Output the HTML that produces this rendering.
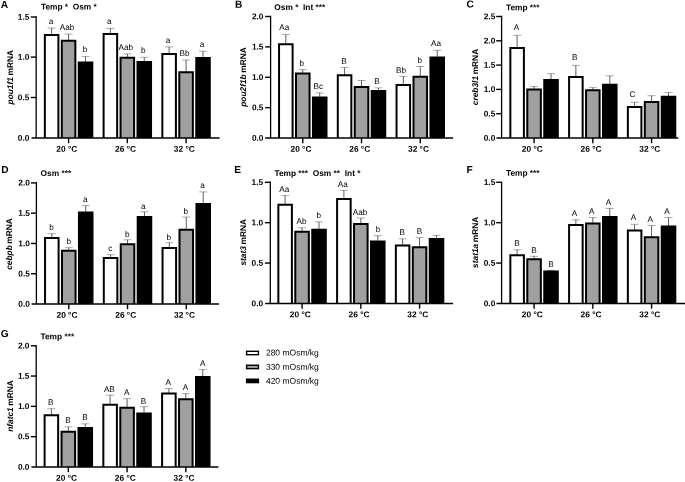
<!DOCTYPE html>
<html lang="en">
<head>
<meta charset="utf-8">
<title>Figure</title>
<style>
html,body{margin:0;padding:0;background:#fff;}
body{width:685px;height:482px;overflow:hidden;}
svg{display:block;will-change:transform;filter:grayscale(1);}
svg text{font-family:"Liberation Sans", Arial, sans-serif;fill:#000;text-rendering:geometricPrecision;}
</style>
</head>
<body>
<svg width="685" height="482" viewBox="0 0 685 482">
<rect x="0" y="0" width="685" height="482" fill="#ffffff"/>
<line x1="51.62" y1="28.10" x2="51.62" y2="34.60" stroke="#2a2a2a" stroke-width="0.75"/>
<line x1="47.62" y1="28.10" x2="55.62" y2="28.10" stroke="#2a2a2a" stroke-width="0.4"/>
<path d="M44.85 138.00V35.10H58.40V138.00" fill="#ffffff" stroke="#000" stroke-width="2.0" stroke-linejoin="miter"/>
<line x1="68.57" y1="34.10" x2="68.57" y2="40.20" stroke="#2a2a2a" stroke-width="0.75"/>
<line x1="64.57" y1="34.10" x2="72.57" y2="34.10" stroke="#2a2a2a" stroke-width="0.4"/>
<path d="M61.80 138.00V40.70H75.35V138.00" fill="#a0a0a0" stroke="#000" stroke-width="2.0" stroke-linejoin="miter"/>
<line x1="85.53" y1="56.60" x2="85.53" y2="61.90" stroke="#2a2a2a" stroke-width="0.75"/>
<line x1="81.53" y1="56.60" x2="89.53" y2="56.60" stroke="#2a2a2a" stroke-width="0.4"/>
<path d="M78.75 138.00V62.40H92.30V138.00" fill="#000000" stroke="#000" stroke-width="2.0" stroke-linejoin="miter"/>
<line x1="110.38" y1="28.40" x2="110.38" y2="33.40" stroke="#2a2a2a" stroke-width="0.75"/>
<line x1="106.38" y1="28.40" x2="114.38" y2="28.40" stroke="#2a2a2a" stroke-width="0.4"/>
<path d="M103.60 138.00V33.90H117.15V138.00" fill="#ffffff" stroke="#000" stroke-width="2.0" stroke-linejoin="miter"/>
<line x1="127.32" y1="53.90" x2="127.32" y2="57.30" stroke="#2a2a2a" stroke-width="0.75"/>
<line x1="123.32" y1="53.90" x2="131.32" y2="53.90" stroke="#2a2a2a" stroke-width="0.4"/>
<path d="M120.55 138.00V57.80H134.10V138.00" fill="#a0a0a0" stroke="#000" stroke-width="2.0" stroke-linejoin="miter"/>
<line x1="144.28" y1="57.30" x2="144.28" y2="61.50" stroke="#2a2a2a" stroke-width="0.75"/>
<line x1="140.28" y1="57.30" x2="148.28" y2="57.30" stroke="#2a2a2a" stroke-width="0.4"/>
<path d="M137.50 138.00V62.00H151.05V138.00" fill="#000000" stroke="#000" stroke-width="2.0" stroke-linejoin="miter"/>
<line x1="169.12" y1="46.90" x2="169.12" y2="53.50" stroke="#2a2a2a" stroke-width="0.75"/>
<line x1="165.12" y1="46.90" x2="173.12" y2="46.90" stroke="#2a2a2a" stroke-width="0.4"/>
<path d="M162.35 138.00V54.00H175.90V138.00" fill="#ffffff" stroke="#000" stroke-width="2.0" stroke-linejoin="miter"/>
<line x1="186.07" y1="60.00" x2="186.07" y2="71.70" stroke="#2a2a2a" stroke-width="0.75"/>
<line x1="182.07" y1="60.00" x2="190.07" y2="60.00" stroke="#2a2a2a" stroke-width="0.4"/>
<path d="M179.30 138.00V72.20H192.85V138.00" fill="#a0a0a0" stroke="#000" stroke-width="2.0" stroke-linejoin="miter"/>
<line x1="203.03" y1="51.20" x2="203.03" y2="57.40" stroke="#2a2a2a" stroke-width="0.75"/>
<line x1="199.03" y1="51.20" x2="207.03" y2="51.20" stroke="#2a2a2a" stroke-width="0.4"/>
<path d="M196.25 138.00V57.90H209.80V138.00" fill="#000000" stroke="#000" stroke-width="2.0" stroke-linejoin="miter"/>
<text transform="translate(50.95 24.00) rotate(0.03)" font-size="8.2" text-anchor="middle">a</text>
<text transform="translate(67.00 30.00) rotate(0.03)" font-size="8.2" text-anchor="middle">Aab</text>
<text transform="translate(85.00 52.00) rotate(0.03)" font-size="8.2" text-anchor="middle">b</text>
<text transform="translate(109.40 24.00) rotate(0.03)" font-size="8.2" text-anchor="middle">a</text>
<text transform="translate(125.75 50.00) rotate(0.03)" font-size="8.2" text-anchor="middle">Aab</text>
<text transform="translate(143.20 53.00) rotate(0.03)" font-size="8.2" text-anchor="middle">b</text>
<text transform="translate(168.10 43.00) rotate(0.03)" font-size="8.2" text-anchor="middle">a</text>
<text transform="translate(184.45 56.00) rotate(0.03)" font-size="8.2" text-anchor="middle">Bb</text>
<text transform="translate(202.00 47.00) rotate(0.03)" font-size="8.2" text-anchor="middle">a</text>
<line x1="36.15" y1="16.30" x2="36.15" y2="138.00" stroke="#000" stroke-width="1.3"/>
<line x1="31.50" y1="138.00" x2="219.60" y2="138.00" stroke="#000" stroke-width="1.4"/>
<line x1="30.75" y1="17.00" x2="36.15" y2="17.00" stroke="#000" stroke-width="1.4"/>
<text transform="translate(29.35 19.70) rotate(0.03)" font-size="8.35" font-weight="bold" text-anchor="end">1.5</text>
<line x1="30.75" y1="57.10" x2="36.15" y2="57.10" stroke="#000" stroke-width="1.4"/>
<text transform="translate(29.35 59.80) rotate(0.03)" font-size="8.35" font-weight="bold" text-anchor="end">1.0</text>
<line x1="30.75" y1="97.50" x2="36.15" y2="97.50" stroke="#000" stroke-width="1.4"/>
<text transform="translate(29.35 100.20) rotate(0.03)" font-size="8.35" font-weight="bold" text-anchor="end">0.5</text>
<text transform="translate(29.35 140.70) rotate(0.03)" font-size="8.35" font-weight="bold" text-anchor="end">0.0</text>
<line x1="68.58" y1="138.00" x2="68.58" y2="143.20" stroke="#000" stroke-width="1.4"/>
<text transform="translate(66.78 151.80) rotate(0.03)" font-size="8.35" font-weight="bold" text-anchor="middle">20 °C</text>
<line x1="127.33" y1="138.00" x2="127.33" y2="143.20" stroke="#000" stroke-width="1.4"/>
<text transform="translate(125.53 151.80) rotate(0.03)" font-size="8.35" font-weight="bold" text-anchor="middle">26 °C</text>
<line x1="186.07" y1="138.00" x2="186.07" y2="143.20" stroke="#000" stroke-width="1.4"/>
<text transform="translate(184.27 151.80) rotate(0.03)" font-size="8.35" font-weight="bold" text-anchor="middle">32 °C</text>
<text transform="translate(13.30,77.20) rotate(-90)" font-size="8.35" font-weight="bold" text-anchor="middle" xml:space="preserve"><tspan font-style="italic">pou1f1</tspan><tspan dx="-0.7"> mRNA</tspan></text>
<text transform="translate(40.90 9.50) rotate(0.03)" font-size="8.35" font-weight="bold" xml:space="preserve">Temp *  Osm *</text>
<text transform="translate(0.80 8.00) rotate(0.03)" font-size="10.2" font-weight="bold">A</text>
<line x1="285.83" y1="34.50" x2="285.83" y2="43.70" stroke="#2a2a2a" stroke-width="0.75"/>
<line x1="281.83" y1="34.50" x2="289.83" y2="34.50" stroke="#2a2a2a" stroke-width="0.4"/>
<path d="M279.05 138.05V44.20H292.60V138.05" fill="#ffffff" stroke="#000" stroke-width="2.0" stroke-linejoin="miter"/>
<line x1="302.77" y1="69.70" x2="302.77" y2="72.90" stroke="#2a2a2a" stroke-width="0.75"/>
<line x1="298.77" y1="69.70" x2="306.77" y2="69.70" stroke="#2a2a2a" stroke-width="0.4"/>
<path d="M296.00 138.05V73.40H309.55V138.05" fill="#a0a0a0" stroke="#000" stroke-width="2.0" stroke-linejoin="miter"/>
<line x1="319.73" y1="92.90" x2="319.73" y2="97.00" stroke="#2a2a2a" stroke-width="0.75"/>
<line x1="315.73" y1="92.90" x2="323.73" y2="92.90" stroke="#2a2a2a" stroke-width="0.4"/>
<path d="M312.95 138.05V97.50H326.50V138.05" fill="#000000" stroke="#000" stroke-width="2.0" stroke-linejoin="miter"/>
<line x1="344.58" y1="67.50" x2="344.58" y2="74.70" stroke="#2a2a2a" stroke-width="0.75"/>
<line x1="340.58" y1="67.50" x2="348.58" y2="67.50" stroke="#2a2a2a" stroke-width="0.4"/>
<path d="M337.80 138.05V75.20H351.35V138.05" fill="#ffffff" stroke="#000" stroke-width="2.0" stroke-linejoin="miter"/>
<line x1="361.52" y1="80.50" x2="361.52" y2="86.40" stroke="#2a2a2a" stroke-width="0.75"/>
<line x1="357.52" y1="80.50" x2="365.52" y2="80.50" stroke="#2a2a2a" stroke-width="0.4"/>
<path d="M354.75 138.05V86.90H368.30V138.05" fill="#a0a0a0" stroke="#000" stroke-width="2.0" stroke-linejoin="miter"/>
<line x1="378.48" y1="87.90" x2="378.48" y2="90.60" stroke="#2a2a2a" stroke-width="0.75"/>
<line x1="374.48" y1="87.90" x2="382.48" y2="87.90" stroke="#2a2a2a" stroke-width="0.4"/>
<path d="M371.70 138.05V91.10H385.25V138.05" fill="#000000" stroke="#000" stroke-width="2.0" stroke-linejoin="miter"/>
<line x1="403.33" y1="76.40" x2="403.33" y2="84.50" stroke="#2a2a2a" stroke-width="0.75"/>
<line x1="399.33" y1="76.40" x2="407.33" y2="76.40" stroke="#2a2a2a" stroke-width="0.4"/>
<path d="M396.55 138.05V85.00H410.10V138.05" fill="#ffffff" stroke="#000" stroke-width="2.0" stroke-linejoin="miter"/>
<line x1="420.27" y1="66.50" x2="420.27" y2="76.20" stroke="#2a2a2a" stroke-width="0.75"/>
<line x1="416.27" y1="66.50" x2="424.27" y2="66.50" stroke="#2a2a2a" stroke-width="0.4"/>
<path d="M413.50 138.05V76.70H427.05V138.05" fill="#a0a0a0" stroke="#000" stroke-width="2.0" stroke-linejoin="miter"/>
<line x1="437.23" y1="50.30" x2="437.23" y2="57.00" stroke="#2a2a2a" stroke-width="0.75"/>
<line x1="433.23" y1="50.30" x2="441.23" y2="50.30" stroke="#2a2a2a" stroke-width="0.4"/>
<path d="M430.45 138.05V57.50H444.00V138.05" fill="#000000" stroke="#000" stroke-width="2.0" stroke-linejoin="miter"/>
<text transform="translate(284.30 30.00) rotate(0.03)" font-size="8.2" text-anchor="middle">Aa</text>
<text transform="translate(301.85 66.00) rotate(0.03)" font-size="8.2" text-anchor="middle">b</text>
<text transform="translate(318.25 89.00) rotate(0.03)" font-size="8.2" text-anchor="middle">Bc</text>
<text transform="translate(344.10 64.00) rotate(0.03)" font-size="8.2" text-anchor="middle">B</text>
<text transform="translate(377.10 84.00) rotate(0.03)" font-size="8.2" text-anchor="middle">B</text>
<text transform="translate(401.05 73.00) rotate(0.03)" font-size="8.2" text-anchor="middle">Bb</text>
<text transform="translate(419.70 63.00) rotate(0.03)" font-size="8.2" text-anchor="middle">b</text>
<text transform="translate(436.05 46.00) rotate(0.03)" font-size="8.2" text-anchor="middle">Aa</text>
<line x1="270.60" y1="15.80" x2="270.60" y2="138.05" stroke="#000" stroke-width="1.3"/>
<line x1="265.20" y1="138.05" x2="453.10" y2="138.05" stroke="#000" stroke-width="1.4"/>
<line x1="265.20" y1="16.50" x2="270.60" y2="16.50" stroke="#000" stroke-width="1.4"/>
<text transform="translate(263.50 19.20) rotate(0.03)" font-size="8.35" font-weight="bold" text-anchor="end">2.0</text>
<line x1="265.20" y1="46.89" x2="270.60" y2="46.89" stroke="#000" stroke-width="1.4"/>
<text transform="translate(263.50 49.59) rotate(0.03)" font-size="8.35" font-weight="bold" text-anchor="end">1.5</text>
<line x1="265.20" y1="77.28" x2="270.60" y2="77.28" stroke="#000" stroke-width="1.4"/>
<text transform="translate(263.50 79.98) rotate(0.03)" font-size="8.35" font-weight="bold" text-anchor="end">1.0</text>
<line x1="265.20" y1="107.66" x2="270.60" y2="107.66" stroke="#000" stroke-width="1.4"/>
<text transform="translate(263.50 110.36) rotate(0.03)" font-size="8.35" font-weight="bold" text-anchor="end">0.5</text>
<text transform="translate(263.50 140.75) rotate(0.03)" font-size="8.35" font-weight="bold" text-anchor="end">0.0</text>
<line x1="302.77" y1="138.05" x2="302.77" y2="143.25" stroke="#000" stroke-width="1.4"/>
<text transform="translate(300.97 151.85) rotate(0.03)" font-size="8.35" font-weight="bold" text-anchor="middle">20 °C</text>
<line x1="361.52" y1="138.05" x2="361.52" y2="143.25" stroke="#000" stroke-width="1.4"/>
<text transform="translate(359.72 151.85) rotate(0.03)" font-size="8.35" font-weight="bold" text-anchor="middle">26 °C</text>
<line x1="420.27" y1="138.05" x2="420.27" y2="143.25" stroke="#000" stroke-width="1.4"/>
<text transform="translate(418.47 151.85) rotate(0.03)" font-size="8.35" font-weight="bold" text-anchor="middle">32 °C</text>
<text transform="translate(246.40,77.00) rotate(-90)" font-size="8.35" font-weight="bold" text-anchor="middle" xml:space="preserve"><tspan font-style="italic">pou2f1b</tspan><tspan dx="-0.7"> mRNA</tspan></text>
<text transform="translate(274.30 10.00) rotate(0.03)" font-size="8.35" font-weight="bold" xml:space="preserve">Osm *  Int ***</text>
<text transform="translate(234.90 7.70) rotate(0.03)" font-size="10.2" font-weight="bold">B</text>
<line x1="517.12" y1="35.30" x2="517.12" y2="47.50" stroke="#2a2a2a" stroke-width="0.75"/>
<line x1="513.12" y1="35.30" x2="521.12" y2="35.30" stroke="#2a2a2a" stroke-width="0.4"/>
<path d="M510.35 138.00V48.00H523.90V138.00" fill="#ffffff" stroke="#000" stroke-width="2.0" stroke-linejoin="miter"/>
<line x1="534.07" y1="86.60" x2="534.07" y2="89.10" stroke="#2a2a2a" stroke-width="0.75"/>
<line x1="530.07" y1="86.60" x2="538.07" y2="86.60" stroke="#2a2a2a" stroke-width="0.4"/>
<path d="M527.30 138.00V89.60H540.85V138.00" fill="#a0a0a0" stroke="#000" stroke-width="2.0" stroke-linejoin="miter"/>
<line x1="551.02" y1="73.70" x2="551.02" y2="79.40" stroke="#2a2a2a" stroke-width="0.75"/>
<line x1="547.02" y1="73.70" x2="555.02" y2="73.70" stroke="#2a2a2a" stroke-width="0.4"/>
<path d="M544.25 138.00V79.90H557.80V138.00" fill="#000000" stroke="#000" stroke-width="2.0" stroke-linejoin="miter"/>
<line x1="575.87" y1="65.40" x2="575.87" y2="76.40" stroke="#2a2a2a" stroke-width="0.75"/>
<line x1="571.87" y1="65.40" x2="579.87" y2="65.40" stroke="#2a2a2a" stroke-width="0.4"/>
<path d="M569.10 138.00V76.90H582.65V138.00" fill="#ffffff" stroke="#000" stroke-width="2.0" stroke-linejoin="miter"/>
<line x1="592.82" y1="87.60" x2="592.82" y2="89.80" stroke="#2a2a2a" stroke-width="0.75"/>
<line x1="588.82" y1="87.60" x2="596.82" y2="87.60" stroke="#2a2a2a" stroke-width="0.4"/>
<path d="M586.05 138.00V90.30H599.60V138.00" fill="#a0a0a0" stroke="#000" stroke-width="2.0" stroke-linejoin="miter"/>
<line x1="609.77" y1="75.80" x2="609.77" y2="84.30" stroke="#2a2a2a" stroke-width="0.75"/>
<line x1="605.77" y1="75.80" x2="613.77" y2="75.80" stroke="#2a2a2a" stroke-width="0.4"/>
<path d="M603.00 138.00V84.80H616.55V138.00" fill="#000000" stroke="#000" stroke-width="2.0" stroke-linejoin="miter"/>
<line x1="634.62" y1="102.30" x2="634.62" y2="106.60" stroke="#2a2a2a" stroke-width="0.75"/>
<line x1="630.62" y1="102.30" x2="638.62" y2="102.30" stroke="#2a2a2a" stroke-width="0.4"/>
<path d="M627.85 138.00V107.10H641.40V138.00" fill="#ffffff" stroke="#000" stroke-width="2.0" stroke-linejoin="miter"/>
<line x1="651.57" y1="95.70" x2="651.57" y2="101.50" stroke="#2a2a2a" stroke-width="0.75"/>
<line x1="647.57" y1="95.70" x2="655.57" y2="95.70" stroke="#2a2a2a" stroke-width="0.4"/>
<path d="M644.80 138.00V102.00H658.35V138.00" fill="#a0a0a0" stroke="#000" stroke-width="2.0" stroke-linejoin="miter"/>
<line x1="668.52" y1="92.60" x2="668.52" y2="96.20" stroke="#2a2a2a" stroke-width="0.75"/>
<line x1="664.52" y1="92.60" x2="672.52" y2="92.60" stroke="#2a2a2a" stroke-width="0.4"/>
<path d="M661.75 138.00V96.70H675.30V138.00" fill="#000000" stroke="#000" stroke-width="2.0" stroke-linejoin="miter"/>
<text transform="translate(516.40 30.00) rotate(0.03)" font-size="8.2" text-anchor="middle">A</text>
<text transform="translate(574.65 60.00) rotate(0.03)" font-size="8.2" text-anchor="middle">B</text>
<text transform="translate(632.55 97.00) rotate(0.03)" font-size="8.2" text-anchor="middle">C</text>
<line x1="501.60" y1="15.80" x2="501.60" y2="138.00" stroke="#000" stroke-width="1.3"/>
<line x1="496.50" y1="138.00" x2="678.30" y2="138.00" stroke="#000" stroke-width="1.4"/>
<line x1="496.20" y1="16.50" x2="501.60" y2="16.50" stroke="#000" stroke-width="1.4"/>
<text transform="translate(495.30 19.20) rotate(0.03)" font-size="8.35" font-weight="bold" text-anchor="end">2.5</text>
<line x1="496.20" y1="40.80" x2="501.60" y2="40.80" stroke="#000" stroke-width="1.4"/>
<text transform="translate(495.30 43.50) rotate(0.03)" font-size="8.35" font-weight="bold" text-anchor="end">2.0</text>
<line x1="496.20" y1="65.10" x2="501.60" y2="65.10" stroke="#000" stroke-width="1.4"/>
<text transform="translate(495.30 67.80) rotate(0.03)" font-size="8.35" font-weight="bold" text-anchor="end">1.5</text>
<line x1="496.20" y1="89.40" x2="501.60" y2="89.40" stroke="#000" stroke-width="1.4"/>
<text transform="translate(495.30 92.10) rotate(0.03)" font-size="8.35" font-weight="bold" text-anchor="end">1.0</text>
<line x1="496.20" y1="113.70" x2="501.60" y2="113.70" stroke="#000" stroke-width="1.4"/>
<text transform="translate(495.30 116.40) rotate(0.03)" font-size="8.35" font-weight="bold" text-anchor="end">0.5</text>
<text transform="translate(495.30 140.70) rotate(0.03)" font-size="8.35" font-weight="bold" text-anchor="end">0.0</text>
<line x1="534.07" y1="138.00" x2="534.07" y2="143.20" stroke="#000" stroke-width="1.4"/>
<text transform="translate(532.27 151.80) rotate(0.03)" font-size="8.35" font-weight="bold" text-anchor="middle">20 °C</text>
<line x1="592.82" y1="138.00" x2="592.82" y2="143.20" stroke="#000" stroke-width="1.4"/>
<text transform="translate(591.02 151.80) rotate(0.03)" font-size="8.35" font-weight="bold" text-anchor="middle">26 °C</text>
<line x1="651.57" y1="138.00" x2="651.57" y2="143.20" stroke="#000" stroke-width="1.4"/>
<text transform="translate(649.77 151.80) rotate(0.03)" font-size="8.35" font-weight="bold" text-anchor="middle">32 °C</text>
<text transform="translate(477.70,77.00) rotate(-90)" font-size="8.35" font-weight="bold" text-anchor="middle" xml:space="preserve"><tspan font-style="italic">creb3l1</tspan><tspan dx="-0.7"> mRNA</tspan></text>
<text transform="translate(505.90 10.30) rotate(0.03)" font-size="8.35" font-weight="bold" xml:space="preserve">Temp ***</text>
<text transform="translate(466.50 7.60) rotate(0.03)" font-size="10.2" font-weight="bold">C</text>
<line x1="51.83" y1="233.70" x2="51.83" y2="237.60" stroke="#2a2a2a" stroke-width="0.75"/>
<line x1="47.83" y1="233.70" x2="55.83" y2="233.70" stroke="#2a2a2a" stroke-width="0.4"/>
<path d="M45.05 304.00V238.10H58.60V304.00" fill="#ffffff" stroke="#000" stroke-width="2.0" stroke-linejoin="miter"/>
<line x1="68.78" y1="247.70" x2="68.78" y2="250.30" stroke="#2a2a2a" stroke-width="0.75"/>
<line x1="64.78" y1="247.70" x2="72.78" y2="247.70" stroke="#2a2a2a" stroke-width="0.4"/>
<path d="M62.00 304.00V250.80H75.55V304.00" fill="#a0a0a0" stroke="#000" stroke-width="2.0" stroke-linejoin="miter"/>
<line x1="85.72" y1="205.60" x2="85.72" y2="212.10" stroke="#2a2a2a" stroke-width="0.75"/>
<line x1="81.72" y1="205.60" x2="89.72" y2="205.60" stroke="#2a2a2a" stroke-width="0.4"/>
<path d="M78.95 304.00V212.60H92.50V304.00" fill="#000000" stroke="#000" stroke-width="2.0" stroke-linejoin="miter"/>
<line x1="110.58" y1="254.70" x2="110.58" y2="257.50" stroke="#2a2a2a" stroke-width="0.75"/>
<line x1="106.58" y1="254.70" x2="114.58" y2="254.70" stroke="#2a2a2a" stroke-width="0.4"/>
<path d="M103.80 304.00V258.00H117.35V304.00" fill="#ffffff" stroke="#000" stroke-width="2.0" stroke-linejoin="miter"/>
<line x1="127.53" y1="239.80" x2="127.53" y2="243.80" stroke="#2a2a2a" stroke-width="0.75"/>
<line x1="123.53" y1="239.80" x2="131.53" y2="239.80" stroke="#2a2a2a" stroke-width="0.4"/>
<path d="M120.75 304.00V244.30H134.30V304.00" fill="#a0a0a0" stroke="#000" stroke-width="2.0" stroke-linejoin="miter"/>
<line x1="144.48" y1="211.80" x2="144.48" y2="216.60" stroke="#2a2a2a" stroke-width="0.75"/>
<line x1="140.48" y1="211.80" x2="148.48" y2="211.80" stroke="#2a2a2a" stroke-width="0.4"/>
<path d="M137.70 304.00V217.10H151.25V304.00" fill="#000000" stroke="#000" stroke-width="2.0" stroke-linejoin="miter"/>
<line x1="169.33" y1="242.70" x2="169.33" y2="247.40" stroke="#2a2a2a" stroke-width="0.75"/>
<line x1="165.33" y1="242.70" x2="173.33" y2="242.70" stroke="#2a2a2a" stroke-width="0.4"/>
<path d="M162.55 304.00V247.90H176.10V304.00" fill="#ffffff" stroke="#000" stroke-width="2.0" stroke-linejoin="miter"/>
<line x1="186.28" y1="217.00" x2="186.28" y2="229.30" stroke="#2a2a2a" stroke-width="0.75"/>
<line x1="182.28" y1="217.00" x2="190.28" y2="217.00" stroke="#2a2a2a" stroke-width="0.4"/>
<path d="M179.50 304.00V229.80H193.05V304.00" fill="#a0a0a0" stroke="#000" stroke-width="2.0" stroke-linejoin="miter"/>
<line x1="203.23" y1="191.90" x2="203.23" y2="203.40" stroke="#2a2a2a" stroke-width="0.75"/>
<line x1="199.23" y1="191.90" x2="207.23" y2="191.90" stroke="#2a2a2a" stroke-width="0.4"/>
<path d="M196.45 304.00V203.90H210.00V304.00" fill="#000000" stroke="#000" stroke-width="2.0" stroke-linejoin="miter"/>
<text transform="translate(51.55 230.00) rotate(0.03)" font-size="8.2" text-anchor="middle">b</text>
<text transform="translate(68.70 244.00) rotate(0.03)" font-size="8.2" text-anchor="middle">b</text>
<text transform="translate(85.25 202.00) rotate(0.03)" font-size="8.2" text-anchor="middle">a</text>
<text transform="translate(110.35 251.00) rotate(0.03)" font-size="8.2" text-anchor="middle">c</text>
<text transform="translate(127.25 237.00) rotate(0.03)" font-size="8.2" text-anchor="middle">b</text>
<text transform="translate(143.20 209.00) rotate(0.03)" font-size="8.2" text-anchor="middle">a</text>
<text transform="translate(168.85 240.00) rotate(0.03)" font-size="8.2" text-anchor="middle">b</text>
<text transform="translate(185.75 214.00) rotate(0.03)" font-size="8.2" text-anchor="middle">b</text>
<text transform="translate(202.50 188.00) rotate(0.03)" font-size="8.2" text-anchor="middle">a</text>
<line x1="36.40" y1="182.20" x2="36.40" y2="304.00" stroke="#000" stroke-width="1.3"/>
<line x1="31.60" y1="304.00" x2="219.00" y2="304.00" stroke="#000" stroke-width="1.4"/>
<line x1="31.00" y1="182.90" x2="36.40" y2="182.90" stroke="#000" stroke-width="1.4"/>
<text transform="translate(29.90 185.60) rotate(0.03)" font-size="8.35" font-weight="bold" text-anchor="end">2.0</text>
<line x1="31.00" y1="213.18" x2="36.40" y2="213.18" stroke="#000" stroke-width="1.4"/>
<text transform="translate(29.90 215.88) rotate(0.03)" font-size="8.35" font-weight="bold" text-anchor="end">1.5</text>
<line x1="31.00" y1="243.45" x2="36.40" y2="243.45" stroke="#000" stroke-width="1.4"/>
<text transform="translate(29.90 246.15) rotate(0.03)" font-size="8.35" font-weight="bold" text-anchor="end">1.0</text>
<line x1="31.00" y1="273.73" x2="36.40" y2="273.73" stroke="#000" stroke-width="1.4"/>
<text transform="translate(29.90 276.43) rotate(0.03)" font-size="8.35" font-weight="bold" text-anchor="end">0.5</text>
<text transform="translate(29.90 306.70) rotate(0.03)" font-size="8.35" font-weight="bold" text-anchor="end">0.0</text>
<line x1="68.78" y1="304.00" x2="68.78" y2="309.20" stroke="#000" stroke-width="1.4"/>
<text transform="translate(66.98 317.80) rotate(0.03)" font-size="8.35" font-weight="bold" text-anchor="middle">20 °C</text>
<line x1="127.53" y1="304.00" x2="127.53" y2="309.20" stroke="#000" stroke-width="1.4"/>
<text transform="translate(125.73 317.80) rotate(0.03)" font-size="8.35" font-weight="bold" text-anchor="middle">26 °C</text>
<line x1="186.28" y1="304.00" x2="186.28" y2="309.20" stroke="#000" stroke-width="1.4"/>
<text transform="translate(184.47 317.80) rotate(0.03)" font-size="8.35" font-weight="bold" text-anchor="middle">32 °C</text>
<text transform="translate(12.30,244.00) rotate(-90)" font-size="8.35" font-weight="bold" text-anchor="middle" xml:space="preserve"><tspan font-style="italic">cebpb</tspan><tspan dx="-0.7"> mRNA</tspan></text>
<text transform="translate(40.60 176.00) rotate(0.03)" font-size="8.35" font-weight="bold" xml:space="preserve">Osm ***</text>
<text transform="translate(1.20 173.00) rotate(0.03)" font-size="10.2" font-weight="bold">D</text>
<line x1="285.12" y1="195.60" x2="285.12" y2="204.30" stroke="#2a2a2a" stroke-width="0.75"/>
<line x1="281.12" y1="195.60" x2="289.12" y2="195.60" stroke="#2a2a2a" stroke-width="0.4"/>
<path d="M278.35 303.45V204.80H291.90V303.45" fill="#ffffff" stroke="#000" stroke-width="2.0" stroke-linejoin="miter"/>
<line x1="302.07" y1="227.80" x2="302.07" y2="231.30" stroke="#2a2a2a" stroke-width="0.75"/>
<line x1="298.07" y1="227.80" x2="306.07" y2="227.80" stroke="#2a2a2a" stroke-width="0.4"/>
<path d="M295.30 303.45V231.80H308.85V303.45" fill="#a0a0a0" stroke="#000" stroke-width="2.0" stroke-linejoin="miter"/>
<line x1="319.02" y1="221.90" x2="319.02" y2="229.30" stroke="#2a2a2a" stroke-width="0.75"/>
<line x1="315.02" y1="221.90" x2="323.02" y2="221.90" stroke="#2a2a2a" stroke-width="0.4"/>
<path d="M312.25 303.45V229.80H325.80V303.45" fill="#000000" stroke="#000" stroke-width="2.0" stroke-linejoin="miter"/>
<line x1="343.88" y1="190.40" x2="343.88" y2="198.50" stroke="#2a2a2a" stroke-width="0.75"/>
<line x1="339.88" y1="190.40" x2="347.88" y2="190.40" stroke="#2a2a2a" stroke-width="0.4"/>
<path d="M337.10 303.45V199.00H350.65V303.45" fill="#ffffff" stroke="#000" stroke-width="2.0" stroke-linejoin="miter"/>
<line x1="360.82" y1="218.00" x2="360.82" y2="223.40" stroke="#2a2a2a" stroke-width="0.75"/>
<line x1="356.82" y1="218.00" x2="364.82" y2="218.00" stroke="#2a2a2a" stroke-width="0.4"/>
<path d="M354.05 303.45V223.90H367.60V303.45" fill="#a0a0a0" stroke="#000" stroke-width="2.0" stroke-linejoin="miter"/>
<line x1="377.77" y1="235.70" x2="377.77" y2="240.90" stroke="#2a2a2a" stroke-width="0.75"/>
<line x1="373.77" y1="235.70" x2="381.77" y2="235.70" stroke="#2a2a2a" stroke-width="0.4"/>
<path d="M371.00 303.45V241.40H384.55V303.45" fill="#000000" stroke="#000" stroke-width="2.0" stroke-linejoin="miter"/>
<line x1="402.62" y1="238.80" x2="402.62" y2="245.00" stroke="#2a2a2a" stroke-width="0.75"/>
<line x1="398.62" y1="238.80" x2="406.62" y2="238.80" stroke="#2a2a2a" stroke-width="0.4"/>
<path d="M395.85 303.45V245.50H409.40V303.45" fill="#ffffff" stroke="#000" stroke-width="2.0" stroke-linejoin="miter"/>
<line x1="419.57" y1="237.70" x2="419.57" y2="246.70" stroke="#2a2a2a" stroke-width="0.75"/>
<line x1="415.57" y1="237.70" x2="423.57" y2="237.70" stroke="#2a2a2a" stroke-width="0.4"/>
<path d="M412.80 303.45V247.20H426.35V303.45" fill="#a0a0a0" stroke="#000" stroke-width="2.0" stroke-linejoin="miter"/>
<line x1="436.52" y1="235.40" x2="436.52" y2="238.50" stroke="#2a2a2a" stroke-width="0.75"/>
<line x1="432.52" y1="235.40" x2="440.52" y2="235.40" stroke="#2a2a2a" stroke-width="0.4"/>
<path d="M429.75 303.45V239.00H443.30V303.45" fill="#000000" stroke="#000" stroke-width="2.0" stroke-linejoin="miter"/>
<text transform="translate(284.30 192.00) rotate(0.03)" font-size="8.2" text-anchor="middle">Aa</text>
<text transform="translate(301.60 224.00) rotate(0.03)" font-size="8.2" text-anchor="middle">Ab</text>
<text transform="translate(318.80 218.00) rotate(0.03)" font-size="8.2" text-anchor="middle">b</text>
<text transform="translate(342.80 187.00) rotate(0.03)" font-size="8.2" text-anchor="middle">Aa</text>
<text transform="translate(359.95 215.00) rotate(0.03)" font-size="8.2" text-anchor="middle">Aab</text>
<text transform="translate(378.00 232.00) rotate(0.03)" font-size="8.2" text-anchor="middle">b</text>
<text transform="translate(402.20 235.00) rotate(0.03)" font-size="8.2" text-anchor="middle">B</text>
<text transform="translate(419.40 234.00) rotate(0.03)" font-size="8.2" text-anchor="middle">B</text>
<line x1="270.30" y1="181.60" x2="270.30" y2="303.45" stroke="#000" stroke-width="1.3"/>
<line x1="265.20" y1="303.45" x2="453.10" y2="303.45" stroke="#000" stroke-width="1.4"/>
<line x1="264.90" y1="182.30" x2="270.30" y2="182.30" stroke="#000" stroke-width="1.4"/>
<text transform="translate(263.20 185.00) rotate(0.03)" font-size="8.35" font-weight="bold" text-anchor="end">1.5</text>
<line x1="264.90" y1="222.68" x2="270.30" y2="222.68" stroke="#000" stroke-width="1.4"/>
<text transform="translate(263.20 225.38) rotate(0.03)" font-size="8.35" font-weight="bold" text-anchor="end">1.0</text>
<line x1="264.90" y1="263.07" x2="270.30" y2="263.07" stroke="#000" stroke-width="1.4"/>
<text transform="translate(263.20 265.77) rotate(0.03)" font-size="8.35" font-weight="bold" text-anchor="end">0.5</text>
<text transform="translate(263.20 306.15) rotate(0.03)" font-size="8.35" font-weight="bold" text-anchor="end">0.0</text>
<line x1="302.07" y1="303.45" x2="302.07" y2="308.65" stroke="#000" stroke-width="1.4"/>
<text transform="translate(300.27 317.25) rotate(0.03)" font-size="8.35" font-weight="bold" text-anchor="middle">20 °C</text>
<line x1="360.82" y1="303.45" x2="360.82" y2="308.65" stroke="#000" stroke-width="1.4"/>
<text transform="translate(359.02 317.25) rotate(0.03)" font-size="8.35" font-weight="bold" text-anchor="middle">26 °C</text>
<line x1="419.57" y1="303.45" x2="419.57" y2="308.65" stroke="#000" stroke-width="1.4"/>
<text transform="translate(417.77 317.25) rotate(0.03)" font-size="8.35" font-weight="bold" text-anchor="middle">32 °C</text>
<text transform="translate(246.10,242.30) rotate(-90)" font-size="8.35" font-weight="bold" text-anchor="middle" xml:space="preserve"><tspan font-style="italic">stat3</tspan><tspan dx="-0.7"> mRNA</tspan></text>
<text transform="translate(274.40 175.90) rotate(0.03)" font-size="8.35" font-weight="bold" xml:space="preserve">Temp ***  Osm **  Int *</text>
<text transform="translate(234.30 173.00) rotate(0.03)" font-size="10.2" font-weight="bold">E</text>
<line x1="517.12" y1="249.80" x2="517.12" y2="254.70" stroke="#2a2a2a" stroke-width="0.75"/>
<line x1="513.12" y1="249.80" x2="521.12" y2="249.80" stroke="#2a2a2a" stroke-width="0.4"/>
<path d="M510.35 303.45V255.20H523.90V303.45" fill="#ffffff" stroke="#000" stroke-width="2.0" stroke-linejoin="miter"/>
<line x1="534.07" y1="256.30" x2="534.07" y2="258.70" stroke="#2a2a2a" stroke-width="0.75"/>
<line x1="530.07" y1="256.30" x2="538.07" y2="256.30" stroke="#2a2a2a" stroke-width="0.4"/>
<path d="M527.30 303.45V259.20H540.85V303.45" fill="#a0a0a0" stroke="#000" stroke-width="2.0" stroke-linejoin="miter"/>
<line x1="551.02" y1="270.40" x2="551.02" y2="270.90" stroke="#2a2a2a" stroke-width="0.75"/>
<line x1="547.02" y1="270.40" x2="555.02" y2="270.40" stroke="#2a2a2a" stroke-width="0.4"/>
<path d="M544.25 303.45V271.40H557.80V303.45" fill="#000000" stroke="#000" stroke-width="2.0" stroke-linejoin="miter"/>
<line x1="575.87" y1="219.80" x2="575.87" y2="224.50" stroke="#2a2a2a" stroke-width="0.75"/>
<line x1="571.87" y1="219.80" x2="579.87" y2="219.80" stroke="#2a2a2a" stroke-width="0.4"/>
<path d="M569.10 303.45V225.00H582.65V303.45" fill="#ffffff" stroke="#000" stroke-width="2.0" stroke-linejoin="miter"/>
<line x1="592.82" y1="217.60" x2="592.82" y2="223.10" stroke="#2a2a2a" stroke-width="0.75"/>
<line x1="588.82" y1="217.60" x2="596.82" y2="217.60" stroke="#2a2a2a" stroke-width="0.4"/>
<path d="M586.05 303.45V223.60H599.60V303.45" fill="#a0a0a0" stroke="#000" stroke-width="2.0" stroke-linejoin="miter"/>
<line x1="609.77" y1="208.50" x2="609.77" y2="216.40" stroke="#2a2a2a" stroke-width="0.75"/>
<line x1="605.77" y1="208.50" x2="613.77" y2="208.50" stroke="#2a2a2a" stroke-width="0.4"/>
<path d="M603.00 303.45V216.90H616.55V303.45" fill="#000000" stroke="#000" stroke-width="2.0" stroke-linejoin="miter"/>
<line x1="634.62" y1="224.30" x2="634.62" y2="230.10" stroke="#2a2a2a" stroke-width="0.75"/>
<line x1="630.62" y1="224.30" x2="638.62" y2="224.30" stroke="#2a2a2a" stroke-width="0.4"/>
<path d="M627.85 303.45V230.60H641.40V303.45" fill="#ffffff" stroke="#000" stroke-width="2.0" stroke-linejoin="miter"/>
<line x1="651.57" y1="225.60" x2="651.57" y2="236.80" stroke="#2a2a2a" stroke-width="0.75"/>
<line x1="647.57" y1="225.60" x2="655.57" y2="225.60" stroke="#2a2a2a" stroke-width="0.4"/>
<path d="M644.80 303.45V237.30H658.35V303.45" fill="#a0a0a0" stroke="#000" stroke-width="2.0" stroke-linejoin="miter"/>
<line x1="668.52" y1="217.60" x2="668.52" y2="226.00" stroke="#2a2a2a" stroke-width="0.75"/>
<line x1="664.52" y1="217.60" x2="672.52" y2="217.60" stroke="#2a2a2a" stroke-width="0.4"/>
<path d="M661.75 303.45V226.50H675.30V303.45" fill="#000000" stroke="#000" stroke-width="2.0" stroke-linejoin="miter"/>
<text transform="translate(517.10 246.00) rotate(0.03)" font-size="8.2" text-anchor="middle">B</text>
<text transform="translate(533.95 253.00) rotate(0.03)" font-size="8.2" text-anchor="middle">B</text>
<text transform="translate(550.95 267.00) rotate(0.03)" font-size="8.2" text-anchor="middle">B</text>
<text transform="translate(574.50 216.00) rotate(0.03)" font-size="8.2" text-anchor="middle">A</text>
<text transform="translate(591.75 214.00) rotate(0.03)" font-size="8.2" text-anchor="middle">A</text>
<text transform="translate(608.50 205.00) rotate(0.03)" font-size="8.2" text-anchor="middle">A</text>
<text transform="translate(633.40 220.00) rotate(0.03)" font-size="8.2" text-anchor="middle">A</text>
<text transform="translate(650.15 222.00) rotate(0.03)" font-size="8.2" text-anchor="middle">A</text>
<text transform="translate(667.10 214.00) rotate(0.03)" font-size="8.2" text-anchor="middle">A</text>
<line x1="501.60" y1="181.60" x2="501.60" y2="303.45" stroke="#000" stroke-width="1.3"/>
<line x1="496.50" y1="303.45" x2="685.00" y2="303.45" stroke="#000" stroke-width="1.4"/>
<line x1="496.20" y1="182.30" x2="501.60" y2="182.30" stroke="#000" stroke-width="1.4"/>
<text transform="translate(495.30 185.00) rotate(0.03)" font-size="8.35" font-weight="bold" text-anchor="end">1.5</text>
<line x1="496.20" y1="222.68" x2="501.60" y2="222.68" stroke="#000" stroke-width="1.4"/>
<text transform="translate(495.30 225.38) rotate(0.03)" font-size="8.35" font-weight="bold" text-anchor="end">1.0</text>
<line x1="496.20" y1="263.07" x2="501.60" y2="263.07" stroke="#000" stroke-width="1.4"/>
<text transform="translate(495.30 265.77) rotate(0.03)" font-size="8.35" font-weight="bold" text-anchor="end">0.5</text>
<text transform="translate(495.30 306.15) rotate(0.03)" font-size="8.35" font-weight="bold" text-anchor="end">0.0</text>
<line x1="534.07" y1="303.45" x2="534.07" y2="308.65" stroke="#000" stroke-width="1.4"/>
<text transform="translate(532.27 317.25) rotate(0.03)" font-size="8.35" font-weight="bold" text-anchor="middle">20 °C</text>
<line x1="592.82" y1="303.45" x2="592.82" y2="308.65" stroke="#000" stroke-width="1.4"/>
<text transform="translate(591.02 317.25) rotate(0.03)" font-size="8.35" font-weight="bold" text-anchor="middle">26 °C</text>
<line x1="651.57" y1="303.45" x2="651.57" y2="308.65" stroke="#000" stroke-width="1.4"/>
<text transform="translate(649.77 317.25) rotate(0.03)" font-size="8.35" font-weight="bold" text-anchor="middle">32 °C</text>
<text transform="translate(477.60,242.30) rotate(-90)" font-size="8.35" font-weight="bold" text-anchor="middle" xml:space="preserve"><tspan font-style="italic">stat1a</tspan><tspan dx="-0.7"> mRNA</tspan></text>
<text transform="translate(505.90 175.70) rotate(0.03)" font-size="8.35" font-weight="bold" xml:space="preserve">Temp ***</text>
<text transform="translate(466.60 173.00) rotate(0.03)" font-size="10.2" font-weight="bold">F</text>
<line x1="51.38" y1="408.70" x2="51.38" y2="414.80" stroke="#2a2a2a" stroke-width="0.75"/>
<line x1="47.38" y1="408.70" x2="55.38" y2="408.70" stroke="#2a2a2a" stroke-width="0.4"/>
<path d="M44.60 466.95V415.30H58.15V466.95" fill="#ffffff" stroke="#000" stroke-width="2.0" stroke-linejoin="miter"/>
<line x1="68.32" y1="426.85" x2="68.32" y2="431.20" stroke="#2a2a2a" stroke-width="0.75"/>
<line x1="64.32" y1="426.85" x2="72.32" y2="426.85" stroke="#2a2a2a" stroke-width="0.4"/>
<path d="M61.55 466.95V431.70H75.10V466.95" fill="#a0a0a0" stroke="#000" stroke-width="2.0" stroke-linejoin="miter"/>
<line x1="85.28" y1="423.85" x2="85.28" y2="427.40" stroke="#2a2a2a" stroke-width="0.75"/>
<line x1="81.28" y1="423.85" x2="89.28" y2="423.85" stroke="#2a2a2a" stroke-width="0.4"/>
<path d="M78.50 466.95V427.90H92.05V466.95" fill="#000000" stroke="#000" stroke-width="2.0" stroke-linejoin="miter"/>
<line x1="110.12" y1="395.20" x2="110.12" y2="404.15" stroke="#2a2a2a" stroke-width="0.75"/>
<line x1="106.12" y1="395.20" x2="114.12" y2="395.20" stroke="#2a2a2a" stroke-width="0.4"/>
<path d="M103.35 466.95V404.65H116.90V466.95" fill="#ffffff" stroke="#000" stroke-width="2.0" stroke-linejoin="miter"/>
<line x1="127.07" y1="398.70" x2="127.07" y2="407.15" stroke="#2a2a2a" stroke-width="0.75"/>
<line x1="123.07" y1="398.70" x2="131.07" y2="398.70" stroke="#2a2a2a" stroke-width="0.4"/>
<path d="M120.30 466.95V407.65H133.85V466.95" fill="#a0a0a0" stroke="#000" stroke-width="2.0" stroke-linejoin="miter"/>
<line x1="144.03" y1="406.70" x2="144.03" y2="413.05" stroke="#2a2a2a" stroke-width="0.75"/>
<line x1="140.03" y1="406.70" x2="148.03" y2="406.70" stroke="#2a2a2a" stroke-width="0.4"/>
<path d="M137.25 466.95V413.55H150.80V466.95" fill="#000000" stroke="#000" stroke-width="2.0" stroke-linejoin="miter"/>
<line x1="168.88" y1="388.60" x2="168.88" y2="393.00" stroke="#2a2a2a" stroke-width="0.75"/>
<line x1="164.88" y1="388.60" x2="172.88" y2="388.60" stroke="#2a2a2a" stroke-width="0.4"/>
<path d="M162.10 466.95V393.50H175.65V466.95" fill="#ffffff" stroke="#000" stroke-width="2.0" stroke-linejoin="miter"/>
<line x1="185.82" y1="393.50" x2="185.82" y2="398.65" stroke="#2a2a2a" stroke-width="0.75"/>
<line x1="181.82" y1="393.50" x2="189.82" y2="393.50" stroke="#2a2a2a" stroke-width="0.4"/>
<path d="M179.05 466.95V399.15H192.60V466.95" fill="#a0a0a0" stroke="#000" stroke-width="2.0" stroke-linejoin="miter"/>
<line x1="202.78" y1="369.60" x2="202.78" y2="376.60" stroke="#2a2a2a" stroke-width="0.75"/>
<line x1="198.78" y1="369.60" x2="206.78" y2="369.60" stroke="#2a2a2a" stroke-width="0.4"/>
<path d="M196.00 466.95V377.10H209.55V466.95" fill="#000000" stroke="#000" stroke-width="2.0" stroke-linejoin="miter"/>
<text transform="translate(50.70 405.00) rotate(0.03)" font-size="8.2" text-anchor="middle">B</text>
<text transform="translate(68.05 423.00) rotate(0.03)" font-size="8.2" text-anchor="middle">B</text>
<text transform="translate(84.90 420.00) rotate(0.03)" font-size="8.2" text-anchor="middle">B</text>
<text transform="translate(109.35 392.00) rotate(0.03)" font-size="8.2" text-anchor="middle">AB</text>
<text transform="translate(126.85 395.00) rotate(0.03)" font-size="8.2" text-anchor="middle">A</text>
<text transform="translate(143.50 404.00) rotate(0.03)" font-size="8.2" text-anchor="middle">B</text>
<text transform="translate(168.15 385.00) rotate(0.03)" font-size="8.2" text-anchor="middle">A</text>
<text transform="translate(185.55 390.00) rotate(0.03)" font-size="8.2" text-anchor="middle">A</text>
<text transform="translate(202.80 366.00) rotate(0.03)" font-size="8.2" text-anchor="middle">A</text>
<line x1="36.20" y1="345.05" x2="36.20" y2="466.95" stroke="#000" stroke-width="1.3"/>
<line x1="31.40" y1="466.95" x2="218.40" y2="466.95" stroke="#000" stroke-width="1.4"/>
<line x1="30.80" y1="345.75" x2="36.20" y2="345.75" stroke="#000" stroke-width="1.4"/>
<text transform="translate(29.50 348.45) rotate(0.03)" font-size="8.35" font-weight="bold" text-anchor="end">2.0</text>
<line x1="30.80" y1="376.05" x2="36.20" y2="376.05" stroke="#000" stroke-width="1.4"/>
<text transform="translate(29.50 378.75) rotate(0.03)" font-size="8.35" font-weight="bold" text-anchor="end">1.5</text>
<line x1="30.80" y1="406.35" x2="36.20" y2="406.35" stroke="#000" stroke-width="1.4"/>
<text transform="translate(29.50 409.05) rotate(0.03)" font-size="8.35" font-weight="bold" text-anchor="end">1.0</text>
<line x1="30.80" y1="436.65" x2="36.20" y2="436.65" stroke="#000" stroke-width="1.4"/>
<text transform="translate(29.50 439.35) rotate(0.03)" font-size="8.35" font-weight="bold" text-anchor="end">0.5</text>
<text transform="translate(29.50 469.65) rotate(0.03)" font-size="8.35" font-weight="bold" text-anchor="end">0.0</text>
<line x1="68.33" y1="466.95" x2="68.33" y2="472.15" stroke="#000" stroke-width="1.4"/>
<text transform="translate(66.53 480.75) rotate(0.03)" font-size="8.35" font-weight="bold" text-anchor="middle">20 °C</text>
<line x1="127.08" y1="466.95" x2="127.08" y2="472.15" stroke="#000" stroke-width="1.4"/>
<text transform="translate(125.28 480.75) rotate(0.03)" font-size="8.35" font-weight="bold" text-anchor="middle">26 °C</text>
<line x1="185.82" y1="466.95" x2="185.82" y2="472.15" stroke="#000" stroke-width="1.4"/>
<text transform="translate(184.02 480.75) rotate(0.03)" font-size="8.35" font-weight="bold" text-anchor="middle">32 °C</text>
<text transform="translate(12.70,406.00) rotate(-90)" font-size="8.35" font-weight="bold" text-anchor="middle" xml:space="preserve"><tspan font-style="italic">nfatc1</tspan><tspan dx="-0.7"> mRNA</tspan></text>
<text transform="translate(40.50 339.15) rotate(0.03)" font-size="8.35" font-weight="bold" xml:space="preserve">Temp ***</text>
<text transform="translate(0.70 336.90) rotate(0.03)" font-size="10.2" font-weight="bold">G</text>
<rect x="246.60" y="351.30" width="11.80" height="3.40" fill="#ffffff" stroke="#000" stroke-width="1.4"/>
<text transform="translate(265.90 355.60) rotate(0.03)" font-size="8.5">280 mOsm/kg</text>
<rect x="246.60" y="365.25" width="11.80" height="3.40" fill="#a0a0a0" stroke="#000" stroke-width="1.4"/>
<text transform="translate(265.90 369.70) rotate(0.03)" font-size="8.5">330 mOsm/kg</text>
<rect x="246.60" y="379.20" width="11.80" height="3.40" fill="#000000" stroke="#000" stroke-width="1.4"/>
<text transform="translate(265.90 383.70) rotate(0.03)" font-size="8.5">420 mOsm/kg</text>
</svg>
</body>
</html>
